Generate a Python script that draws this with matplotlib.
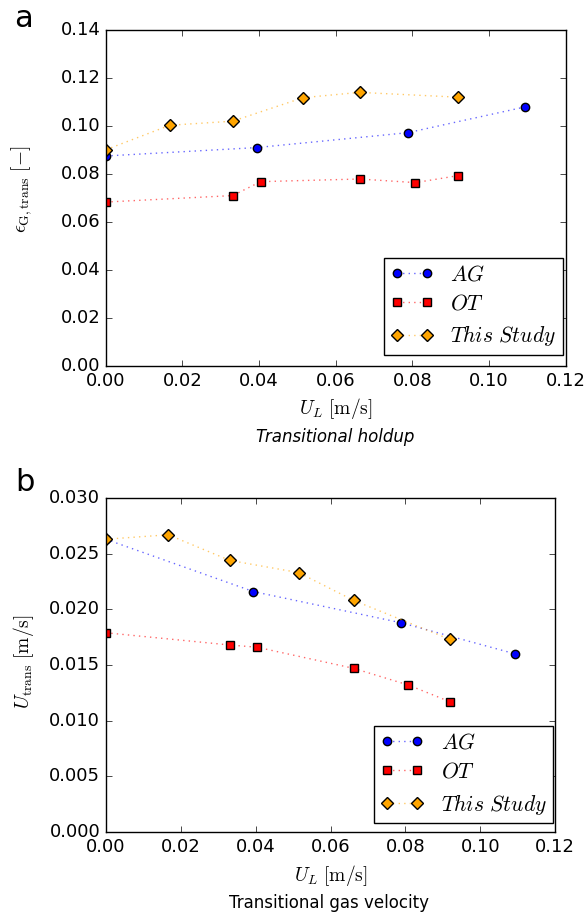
import matplotlib
matplotlib.use('Agg')
import matplotlib.pyplot as plt

plt.style.use('classic')
plt.rcParams['figure.facecolor'] = 'white'
plt.rcParams['savefig.facecolor'] = 'white'
plt.rcParams['mathtext.fontset'] = 'cm'
plt.rcParams['xtick.labelsize'] = 13
plt.rcParams['ytick.labelsize'] = 13

# superficial liquid velocity U_L [m/s] for each data set
ul_ag = [0.0, 0.0394, 0.0788, 0.1093]
ul_ot = [0.0, 0.0331, 0.0404, 0.0662, 0.0808, 0.0919]
ul_study = [0.0, 0.0167, 0.0331, 0.0515, 0.0662, 0.0919]

# transitional gas holdup [-]
eps_ag = [0.0875, 0.0910, 0.0972, 0.1079]
eps_ot = [0.0683, 0.0710, 0.0768, 0.0779, 0.0764, 0.0793]
eps_study = [0.0901, 0.1003, 0.1020, 0.1118, 0.1140, 0.1120]

# transitional gas velocity [m/s]
utr_ag = [0.0263, 0.0216, 0.0188, 0.0160]
utr_ot = [0.0179, 0.0168, 0.0166, 0.0147, 0.0132, 0.0117]
utr_study = [0.0263, 0.0267, 0.0244, 0.0233, 0.0208, 0.0173]

labels = [r'$AG$', r'$OT$', r'$This\ Study$']
styles = [
    dict(marker='o', ms=6, mfc='blue', color=(0, 0, 1, 0.6)),
    dict(marker='s', ms=6, mfc='red', color=(1, 0, 0, 0.6)),
    dict(marker='D', ms=6.5, mfc='orange', color=(1, 0.65, 0, 0.6)),
]


def draw_panel(ax, xs, ys, ylim, yticks, ylabel, ylabel_pos, legend_pos):
    for x, y, lab, st in zip(xs, ys, labels, styles):
        ax.plot(x, y, ls=':', lw=1.0, mec='k', mew=1.0, label=lab, **st)
    ax.set_xlim(0, 0.12)
    ax.set_xticks([0.0, 0.02, 0.04, 0.06, 0.08, 0.10, 0.12])
    ax.set_ylim(*ylim)
    ax.set_yticks(yticks)
    ax.set_xlabel(r'$U_L\ [\rm m/s]$', fontsize=14)
    ax.set_ylabel(ylabel, fontsize=14)
    ax.yaxis.set_label_coords(*ylabel_pos)
    ax.legend(loc='lower right', bbox_to_anchor=legend_pos, borderaxespad=0,
              numpoints=2, fontsize=15.5, handlelength=2.0, borderpad=0.3,
              labelspacing=0.45)


fig = plt.figure(figsize=(5.88, 9.14), dpi=100)

ax1 = fig.add_axes([0.180, 0.5996, 0.782, 0.3676])
draw_panel(ax1, [ul_ag, ul_ot, ul_study], [eps_ag, eps_ot, eps_study],
           (0, 0.14), [0.0, 0.02, 0.04, 0.06, 0.08, 0.10, 0.12, 0.14],
           r'$\epsilon_{\rm G,trans}\ [-]$', (-0.157, 0.527), (0.9935, 0.033))

ax2 = fig.add_axes([0.1798, 0.0897, 0.7646, 0.3654])
draw_panel(ax2, [ul_ag, ul_ot, ul_study], [utr_ag, utr_ot, utr_study],
           (0, 0.030), [0.0, 0.005, 0.010, 0.015, 0.020, 0.025, 0.030],
           r'$U_{\rm trans}\ [\rm m/s]$', (-0.155, 0.509), (0.995, 0.027))

fig.text(0.040, 0.980, 'a', fontsize=22, ha='center', va='center')
fig.text(0.042, 0.472, 'b', fontsize=22, ha='center', va='center')
fig.text(0.57, 0.522, 'Transitional holdup', fontsize=12, style='italic',
         ha='center', va='center')
fig.text(0.56, 0.012, 'Transitional gas velocity', fontsize=12,
         ha='center', va='center')

fig.savefig('out.png', dpi=100)
